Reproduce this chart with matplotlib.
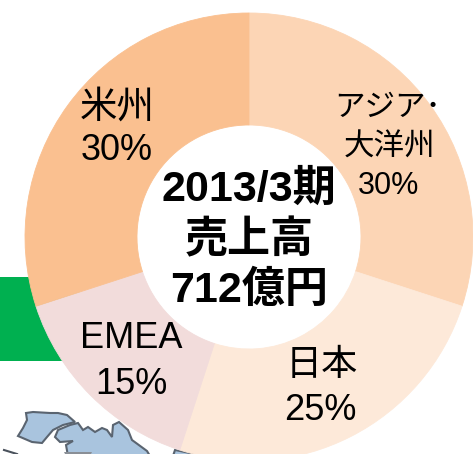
import matplotlib
matplotlib.use('Agg')
import matplotlib.pyplot as plt
from matplotlib.patches import Polygon, Rectangle

plt.rcParams['font.family'] = ['Liberation Sans', 'Noto Sans CJK JP', 'DejaVu Sans']

W, H = 473, 454
shares = [30, 25, 15, 30]
colors = ['#FCD5B5', '#FDE9D9', '#F2DCDB', '#FAC090']
center_lines = ['2013/3期', '売上高', '712億円']

# map scraps along the bottom edge, in picture pixels (y down)
map_north = [(26, 413), (33, 412), (50, 413), (58, 413), (67, 415), (75, 422), (63, 425), (53, 430),
             (47, 437), (42, 443), (32, 442), (18, 436), (23, 428), (27, 420)]
map_main = [(55, 437), (58, 430), (70, 425), (78, 423), (83, 430), (88, 427), (95, 432), (102, 428),
            (107, 430), (112, 437), (113, 425), (119, 422), (128, 430), (132, 440), (147, 451),
            (150, 456), (68, 456), (66, 445), (73, 441), (60, 442)]
map_east = [(175, 450), (185, 452), (205, 456), (173, 456)]


def flip(pts):
    return [(x, H - y) for x, y in pts]


fig = plt.figure(figsize=(W / 100, H / 100), dpi=100)
ax = fig.add_axes([0, 0, 1, 1])

ax.add_patch(Rectangle((0, H - 361), 80, 84, color='#00B050', lw=0))
for pts in (map_north, map_main, map_east):
    ax.add_patch(Polygon(flip(pts), closed=True, fc='#A9C4DE', ec='#5A6470', lw=1.5))
ax.add_patch(Polygon(flip([(64, 452), (92, 452), (90, 456), (66, 456)]), closed=True, fc='#8A8F96', lw=0))
ax.plot([4, 17], [H - 450, H - 454], color='#4A525C', lw=1.5)

cx, cy, R = 249, H - 237, 224
wedges, _ = ax.pie(shares, colors=colors, startangle=90, counterclock=False, center=(cx, cy), radius=R,
                   wedgeprops=dict(width=112, lw=0.6), frame=True)
for w, c in zip(wedges, colors):
    w.set_edgecolor(c)
ax.set_xlim(0, W)
ax.set_ylim(0, H)
ax.set_aspect('auto')
ax.axis('off')


def label(x, y, s, size, **kw):
    ax.text(x, H - y, s, fontsize=size, ha='center', va='center', color='black', **kw)


label(117, 108, '米州', 27)
label(117, 150, '30%', 26)
label(388, 108, 'アジア･', 22)
label(389, 148, '大洋州', 22)
label(389, 186, '30%', 22)
label(322, 365, '日本', 26)
label(320, 410, '25%', 26)
label(131, 339, 'EMEA', 26)
label(131, 384, '15%', 26)

for y, s in zip([190, 241, 291], center_lines):
    label(249, y, s, 31, fontweight='bold')

fig.savefig('out.png', dpi=100)
